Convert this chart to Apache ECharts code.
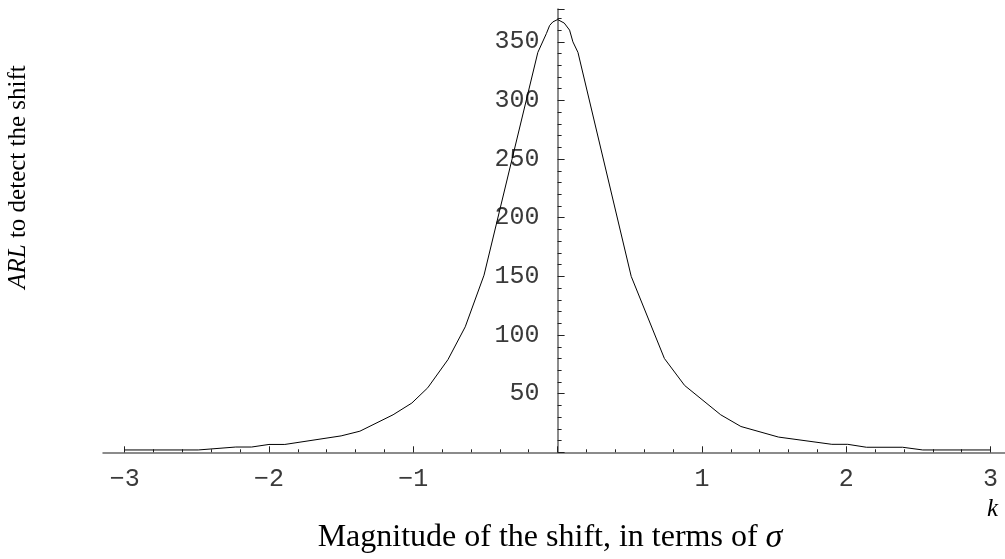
<!DOCTYPE html>
<html>
<head>
<meta charset="utf-8">
<script src="https://cdn.jsdelivr.net/npm/echarts@6/dist/echarts.min.js"></script>
<style>
html,body{margin:0;padding:0;background:#fff;}
#chart{width:1005px;height:559px;}
</style>
</head>
<body>
<div id="chart"></div>
<script>
// Magnitude of the shift k (in sigma) and ARL
const kValues = [-3, -2.49, -2.23, -2.12, -2.0, -1.89, -1.5, -1.37, -1.14, -1.01, -0.9, -0.76, -0.64, -0.51, -0.137, -0.078, -0.055, -0.033, 0, 0.046, 0.083, 0.106, 0.141, 0.51, 0.74, 0.88, 1.13, 1.27, 1.53, 1.9, 2.01, 2.14, 2.39, 2.53, 3];
const arlValues = [2, 2, 4.5, 4.5, 6.7, 6.7, 14, 18, 32, 42, 55, 79, 107, 151, 341, 357, 364, 367, 369, 366, 360, 350, 341, 150, 80, 57, 32, 22, 13, 6.8, 6.8, 4.3, 4.3, 2, 2];
const xMajorTicks = [-3, -2, -1, 0, 1, 2, 3];
const xTickLabels = [-3, -2, -1, 1, 2, 3];
const yTickLabels = [50, 100, 150, 200, 250, 300, 350];

const xMinorTicks = [];
for (let i = -15; i <= 15; i++) xMinorTicks.push(+(i * 0.2).toFixed(1));

const data = kValues.map((k, i) => [k, arlValues[i]]);

const chart = echarts.init(document.getElementById('chart'), null, {renderer: 'canvas'});
const monoFont = '"Liberation Mono", "DejaVu Sans Mono", monospace';
const serifFont = '"Liberation Serif", "DejaVu Serif", serif';
const xMin = -3.15, xMax = 3.1;
const gridLeft = 103, gridRight = 0;
const plotWidth = 1005 - gridLeft - gridRight;
// distance from the grid's left edge to k = 0, so the y axis crosses at zero
const zeroOffset = plotWidth * (0 - xMin) / (xMax - xMin);

chart.setOption({
  animation: false,
  backgroundColor: '#fff',
  grid: {left: gridLeft, right: gridRight, top: 9, bottom: 106.7, containLabel: false},
  xAxis: [
    {
      type: 'value', min: xMin, max: xMax,
      axisLine: {show: true, onZero: false, lineStyle: {color: '#666', width: 1.5}},
      axisTick: {show: true, inside: true, length: 3, customValues: xMinorTicks, lineStyle: {color: '#222', width: 1}},
      axisLabel: {show: true, customValues: xTickLabels, margin: 15, fontFamily: monoFont, fontSize: 25, color: '#3a3a3a',
        formatter: v => (v < 0 ? '\u2212' + Math.abs(v) : String(v))},
      splitLine: {show: false}
    },
    {
      type: 'value', min: xMin, max: xMax, position: 'bottom',
      axisLine: {show: false, onZero: false},
      axisTick: {show: true, inside: true, length: 6, customValues: xMajorTicks, lineStyle: {color: '#222', width: 1}},
      axisLabel: {show: false},
      splitLine: {show: false}
    }
  ],
  yAxis: {
    type: 'value', min: 0, max: 378, interval: 50,
    position: 'left', offset: -zeroOffset,
    axisLine: {show: true, onZero: false, lineStyle: {color: '#666', width: 1.5}},
    axisTick: {show: true, inside: true, length: 7, lineStyle: {color: '#222', width: 1}},
    minorTick: {show: true, splitNumber: 5, length: 4, lineStyle: {color: '#222', width: 1}},
    axisLabel: {show: true, customValues: yTickLabels, margin: 18, fontFamily: monoFont, fontSize: 25, color: '#3a3a3a'},
    splitLine: {show: false},
    minorSplitLine: {show: false}
  },
  series: [{
    type: 'line',
    data: data,
    showSymbol: false,
    smooth: false,
    lineStyle: {color: '#000', width: 1},
    clip: false
  }],
  graphic: [
    {
      type: 'text', left: 987, top: 497,
      style: {text: 'k', font: 'italic 25px ' + serifFont, fill: '#000'}
    },
    {
      type: 'text', x: 550, y: 538,
      style: {
        text: '{n|Magnitude of the shift, in terms of }{s|σ}',
        align: 'center', verticalAlign: 'middle',
        rich: {
          n: {font: '32px ' + serifFont, fill: '#000'},
          s: {font: 'italic 34px ' + serifFont, fill: '#000'}
        }
      }
    },
    {
      type: 'text', x: 18, y: 177, rotation: Math.PI / 2,
      style: {
        text: '{i|ARL}{n| to detect the shift}',
        align: 'center', verticalAlign: 'middle',
        rich: {
          i: {font: 'italic 25px ' + serifFont, fill: '#000'},
          n: {font: '25px ' + serifFont, fill: '#000'}
        }
      }
    }
  ]
});
</script>
</body>
</html>
